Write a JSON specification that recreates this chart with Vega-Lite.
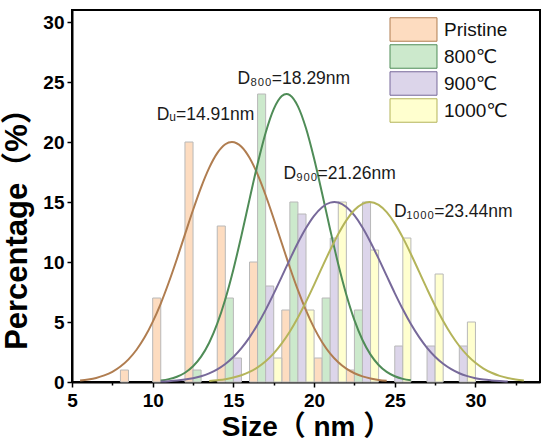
{
  "$schema": "https://vega.github.io/schema/vega-lite/v6.json",
  "width": 468,
  "height": 372,
  "autosize": {"type": "none"},
  "padding": {"left": 72, "top": 10, "right": 10, "bottom": 65},
  "background": "white",
  "config": {
    "font": "Liberation Sans",
    "view": {"stroke": "black", "strokeWidth": 2},
    "axis": {
      "grid": false,
      "domainColor": "black",
      "domainWidth": 2,
      "tickColor": "black",
      "tickWidth": 1.5,
      "labelColor": "black",
      "labelFontWeight": "bold",
      "labelFontSize": 19,
      "titleColor": "black",
      "titleFontWeight": "bold",
      "titleFont": "Liberation Sans, Noto Sans CJK SC"
    }
  },
  "datasets": {
    "bars": [
      {"series": "Pristine", "start": 8, "end": 8.5, "pct": 1},
      {"series": "Pristine", "start": 10, "end": 10.5, "pct": 7},
      {"series": "Pristine", "start": 12, "end": 12.5, "pct": 20},
      {"series": "Pristine", "start": 14, "end": 14.5, "pct": 13},
      {"series": "Pristine", "start": 16, "end": 16.5, "pct": 10},
      {"series": "Pristine", "start": 18, "end": 18.5, "pct": 6},
      {"series": "Pristine", "start": 20, "end": 20.5, "pct": 2},
      {"series": "Pristine", "start": 22, "end": 22.5, "pct": 1},
      {"series": "800℃", "start": 12.5, "end": 13, "pct": 1},
      {"series": "800℃", "start": 14.5, "end": 15, "pct": 7},
      {"series": "800℃", "start": 16.5, "end": 17, "pct": 24},
      {"series": "800℃", "start": 18.5, "end": 19, "pct": 15},
      {"series": "800℃", "start": 20.5, "end": 21, "pct": 7},
      {"series": "800℃", "start": 22.5, "end": 23, "pct": 6},
      {"series": "900℃", "start": 15, "end": 15.5, "pct": 2},
      {"series": "900℃", "start": 17, "end": 17.5, "pct": 8},
      {"series": "900℃", "start": 19, "end": 19.5, "pct": 14},
      {"series": "900℃", "start": 21, "end": 21.5, "pct": 12},
      {"series": "900℃", "start": 23, "end": 23.5, "pct": 15},
      {"series": "900℃", "start": 25, "end": 25.5, "pct": 3},
      {"series": "900℃", "start": 27, "end": 27.5, "pct": 3},
      {"series": "900℃", "start": 29, "end": 29.5, "pct": 3},
      {"series": "1000℃", "start": 17.5, "end": 18, "pct": 2},
      {"series": "1000℃", "start": 19.5, "end": 20, "pct": 6},
      {"series": "1000℃", "start": 21.5, "end": 22, "pct": 15},
      {"series": "1000℃", "start": 23.5, "end": 24, "pct": 11},
      {"series": "1000℃", "start": 25.5, "end": 26, "pct": 12},
      {"series": "1000℃", "start": 27.5, "end": 28, "pct": 9},
      {"series": "1000℃", "start": 29.5, "end": 30, "pct": 5}
    ],
    "fits": [
      {"series": "Pristine", "size": 5.5, "fit": 0.12},
      {"series": "Pristine", "size": 6, "fit": 0.21},
      {"series": "Pristine", "size": 6.5, "fit": 0.34},
      {"series": "Pristine", "size": 7, "fit": 0.55},
      {"series": "Pristine", "size": 7.5, "fit": 0.85},
      {"series": "Pristine", "size": 8, "fit": 1.29},
      {"series": "Pristine", "size": 8.5, "fit": 1.89},
      {"series": "Pristine", "size": 9, "fit": 2.69},
      {"series": "Pristine", "size": 9.5, "fit": 3.72},
      {"series": "Pristine", "size": 10, "fit": 5.01},
      {"series": "Pristine", "size": 10.5, "fit": 6.54},
      {"series": "Pristine", "size": 11, "fit": 8.31},
      {"series": "Pristine", "size": 11.5, "fit": 10.25},
      {"series": "Pristine", "size": 12, "fit": 12.3},
      {"series": "Pristine", "size": 12.5, "fit": 14.33},
      {"series": "Pristine", "size": 13, "fit": 16.22},
      {"series": "Pristine", "size": 13.5, "fit": 17.84},
      {"series": "Pristine", "size": 14, "fit": 19.07},
      {"series": "Pristine", "size": 14.5, "fit": 19.81},
      {"series": "Pristine", "size": 14.91, "fit": 20},
      {"series": "Pristine", "size": 15.5, "fit": 19.6},
      {"series": "Pristine", "size": 16, "fit": 18.68},
      {"series": "Pristine", "size": 16.5, "fit": 17.3},
      {"series": "Pristine", "size": 17, "fit": 15.56},
      {"series": "Pristine", "size": 17.5, "fit": 13.6},
      {"series": "Pristine", "size": 18, "fit": 11.56},
      {"series": "Pristine", "size": 18.5, "fit": 9.54},
      {"series": "Pristine", "size": 19, "fit": 7.65},
      {"series": "Pristine", "size": 19.5, "fit": 5.96},
      {"series": "Pristine", "size": 20, "fit": 4.51},
      {"series": "Pristine", "size": 20.5, "fit": 3.32},
      {"series": "Pristine", "size": 21, "fit": 2.37},
      {"series": "Pristine", "size": 21.5, "fit": 1.65},
      {"series": "Pristine", "size": 22, "fit": 1.11},
      {"series": "Pristine", "size": 22.5, "fit": 0.73},
      {"series": "Pristine", "size": 23, "fit": 0.47},
      {"series": "Pristine", "size": 23.5, "fit": 0.29},
      {"series": "Pristine", "size": 24, "fit": 0.17},
      {"series": "Pristine", "size": 24.5, "fit": 0.1},
      {"series": "800℃", "size": 10.5, "fit": 0.12},
      {"series": "800℃", "size": 11, "fit": 0.24},
      {"series": "800℃", "size": 11.5, "fit": 0.44},
      {"series": "800℃", "size": 12, "fit": 0.77},
      {"series": "800℃", "size": 12.5, "fit": 1.31},
      {"series": "800℃", "size": 13, "fit": 2.11},
      {"series": "800℃", "size": 13.5, "fit": 3.27},
      {"series": "800℃", "size": 14, "fit": 4.86},
      {"series": "800℃", "size": 14.5, "fit": 6.9},
      {"series": "800℃", "size": 15, "fit": 9.38},
      {"series": "800℃", "size": 15.5, "fit": 12.21},
      {"series": "800℃", "size": 16, "fit": 15.22},
      {"series": "800℃", "size": 16.5, "fit": 18.17},
      {"series": "800℃", "size": 17, "fit": 20.77},
      {"series": "800℃", "size": 17.5, "fit": 22.74},
      {"series": "800℃", "size": 18, "fit": 23.83},
      {"series": "800℃", "size": 18.29, "fit": 24},
      {"series": "800℃", "size": 18.5, "fit": 23.91},
      {"series": "800℃", "size": 19, "fit": 22.97},
      {"series": "800℃", "size": 19.5, "fit": 21.14},
      {"series": "800℃", "size": 20, "fit": 18.62},
      {"series": "800℃", "size": 20.5, "fit": 15.71},
      {"series": "800℃", "size": 21, "fit": 12.69},
      {"series": "800℃", "size": 21.5, "fit": 9.81},
      {"series": "800℃", "size": 22, "fit": 7.27},
      {"series": "800℃", "size": 22.5, "fit": 5.15},
      {"series": "800℃", "size": 23, "fit": 3.5},
      {"series": "800℃", "size": 23.5, "fit": 2.28},
      {"series": "800℃", "size": 24, "fit": 1.42},
      {"series": "800℃", "size": 24.5, "fit": 0.84},
      {"series": "800℃", "size": 25, "fit": 0.48},
      {"series": "800℃", "size": 25.5, "fit": 0.26},
      {"series": "800℃", "size": 26, "fit": 0.14},
      {"series": "900℃", "size": 10.5, "fit": 0.04},
      {"series": "900℃", "size": 11, "fit": 0.07},
      {"series": "900℃", "size": 11.5, "fit": 0.12},
      {"series": "900℃", "size": 12, "fit": 0.2},
      {"series": "900℃", "size": 12.5, "fit": 0.31},
      {"series": "900℃", "size": 13, "fit": 0.48},
      {"series": "900℃", "size": 13.5, "fit": 0.72},
      {"series": "900℃", "size": 14, "fit": 1.05},
      {"series": "900℃", "size": 14.5, "fit": 1.5},
      {"series": "900℃", "size": 15, "fit": 2.08},
      {"series": "900℃", "size": 15.5, "fit": 2.82},
      {"series": "900℃", "size": 16, "fit": 3.72},
      {"series": "900℃", "size": 16.5, "fit": 4.79},
      {"series": "900℃", "size": 17, "fit": 6.01},
      {"series": "900℃", "size": 17.5, "fit": 7.36},
      {"series": "900℃", "size": 18, "fit": 8.78},
      {"series": "900℃", "size": 18.5, "fit": 10.22},
      {"series": "900℃", "size": 19, "fit": 11.6},
      {"series": "900℃", "size": 19.5, "fit": 12.83},
      {"series": "900℃", "size": 20, "fit": 13.85},
      {"series": "900℃", "size": 20.5, "fit": 14.57},
      {"series": "900℃", "size": 21, "fit": 14.95},
      {"series": "900℃", "size": 21.26, "fit": 15},
      {"series": "900℃", "size": 21.5, "fit": 14.96},
      {"series": "900℃", "size": 22, "fit": 14.59},
      {"series": "900℃", "size": 22.5, "fit": 13.88},
      {"series": "900℃", "size": 23, "fit": 12.88},
      {"series": "900℃", "size": 23.5, "fit": 11.65},
      {"series": "900℃", "size": 24, "fit": 10.28},
      {"series": "900℃", "size": 24.5, "fit": 8.84},
      {"series": "900℃", "size": 25, "fit": 7.41},
      {"series": "900℃", "size": 25.5, "fit": 6.06},
      {"series": "900℃", "size": 26, "fit": 4.83},
      {"series": "900℃", "size": 26.5, "fit": 3.76},
      {"series": "900℃", "size": 27, "fit": 2.85},
      {"series": "900℃", "size": 27.5, "fit": 2.11},
      {"series": "900℃", "size": 28, "fit": 1.52},
      {"series": "900℃", "size": 28.5, "fit": 1.07},
      {"series": "900℃", "size": 29, "fit": 0.73},
      {"series": "900℃", "size": 29.5, "fit": 0.49},
      {"series": "900℃", "size": 30, "fit": 0.32},
      {"series": "900℃", "size": 30.5, "fit": 0.2},
      {"series": "900℃", "size": 31, "fit": 0.13},
      {"series": "900℃", "size": 31.5, "fit": 0.08},
      {"series": "900℃", "size": 32, "fit": 0.04},
      {"series": "1000℃", "size": 13.5, "fit": 0.09},
      {"series": "1000℃", "size": 14, "fit": 0.15},
      {"series": "1000℃", "size": 14.5, "fit": 0.23},
      {"series": "1000℃", "size": 15, "fit": 0.37},
      {"series": "1000℃", "size": 15.5, "fit": 0.56},
      {"series": "1000℃", "size": 16, "fit": 0.84},
      {"series": "1000℃", "size": 16.5, "fit": 1.22},
      {"series": "1000℃", "size": 17, "fit": 1.73},
      {"series": "1000℃", "size": 17.5, "fit": 2.39},
      {"series": "1000℃", "size": 18, "fit": 3.22},
      {"series": "1000℃", "size": 18.5, "fit": 4.21},
      {"series": "1000℃", "size": 19, "fit": 5.38},
      {"series": "1000℃", "size": 19.5, "fit": 6.69},
      {"series": "1000℃", "size": 20, "fit": 8.1},
      {"series": "1000℃", "size": 20.5, "fit": 9.57},
      {"series": "1000℃", "size": 21, "fit": 11.0},
      {"series": "1000℃", "size": 21.5, "fit": 12.33},
      {"series": "1000℃", "size": 22, "fit": 13.47},
      {"series": "1000℃", "size": 22.5, "fit": 14.33},
      {"series": "1000℃", "size": 23, "fit": 14.85},
      {"series": "1000℃", "size": 23.44, "fit": 15},
      {"series": "1000℃", "size": 24, "fit": 14.76},
      {"series": "1000℃", "size": 24.5, "fit": 14.15},
      {"series": "1000℃", "size": 25, "fit": 13.22},
      {"series": "1000℃", "size": 25.5, "fit": 12.03},
      {"series": "1000℃", "size": 26, "fit": 10.67},
      {"series": "1000℃", "size": 26.5, "fit": 9.22},
      {"series": "1000℃", "size": 27, "fit": 7.76},
      {"series": "1000℃", "size": 27.5, "fit": 6.36},
      {"series": "1000℃", "size": 28, "fit": 5.09},
      {"series": "1000℃", "size": 28.5, "fit": 3.96},
      {"series": "1000℃", "size": 29, "fit": 3.0},
      {"series": "1000℃", "size": 29.5, "fit": 2.22},
      {"series": "1000℃", "size": 30, "fit": 1.6},
      {"series": "1000℃", "size": 30.5, "fit": 1.12},
      {"series": "1000℃", "size": 31, "fit": 0.77},
      {"series": "1000℃", "size": 31.5, "fit": 0.51},
      {"series": "1000℃", "size": 32, "fit": 0.33},
      {"series": "1000℃", "size": 32.5, "fit": 0.21},
      {"series": "1000℃", "size": 33, "fit": 0.13}
    ],
    "notes": [
      {"label": "Dᵤ=14.91nm", "size": 10.25, "pct": 21.8},
      {"label": "D₈₀₀=18.29nm", "size": 15.25, "pct": 24.85},
      {"label": "D₉₀₀=21.26nm", "size": 18.1, "pct": 16.95},
      {"label": "D₁₀₀₀=23.44nm", "size": 24.95, "pct": 13.75}
    ]
  },
  "layer": [
    {
      "data": {"name": "bars"},
      "mark": {"type": "bar", "stroke": "#b8b8b8", "strokeWidth": 1},
      "encoding": {
        "x": {
          "field": "start",
          "type": "quantitative",
          "scale": {"domain": [5, 34], "nice": false, "zero": false},
          "axis": {
            "title": "Size（ nm ）",
            "titleFontSize": 28,
            "titlePadding": 3,
            "values": [5, 7.5, 10, 12.5, 15, 17.5, 20, 22.5, 25, 27.5, 30, 32.5],
            "labelExpr": "datum.value % 5 === 0 ? datum.label : ''",
            "tickSize": {"condition": {"test": "datum.value % 5 === 0", "value": 5}, "value": 3},
            "labelPadding": 4,
            "labelFlush": false
          }
        },
        "x2": {"field": "end"},
        "y": {
          "field": "pct",
          "type": "quantitative",
          "scale": {"domain": [0, 31], "nice": false},
          "axis": {
            "title": "Percentage（%）",
            "titleFontSize": 31,
            "titleX": -39,
            "titleY": 211,
            "titleBaseline": "bottom",
            "titleAlign": "center",
            "values": [0, 2.5, 5, 7.5, 10, 12.5, 15, 17.5, 20, 22.5, 25, 27.5, 30],
            "labelExpr": "datum.value % 5 === 0 ? datum.label : ''",
            "tickSize": {"condition": {"test": "datum.value % 5 === 0", "value": 5}, "value": 3},
            "labelPadding": 3
          }
        },
        "y2": {"datum": 0},
        "fill": {
          "field": "series",
          "type": "nominal",
          "scale": {
            "domain": ["Pristine", "800℃", "900℃", "1000℃"],
            "range": ["#fddcc0", "#cce9cc", "#dcd5ea", "#ffffcf"]
          },
          "legend": {
            "title": null,
            "orient": "none",
            "legendX": 329,
            "legendY": 7,
            "symbolType": "M-2,-1L2,-1L2,1L-2,1Z",
            "symbolSize": 552,
            "symbolStrokeColor": "#b8b8b8",
            "symbolStrokeWidth": 1,
            "symbolOpacity": 1,
            "labelFontSize": 19,
            "labelFont": "Liberation Sans, DejaVu Sans",
            "labelColor": "#111",
            "labelOffset": 18,
            "rowPadding": -4
          }
        }
      }
    },
    {
      "data": {"name": "fits"},
      "mark": {"type": "line", "interpolate": "monotone", "strokeWidth": 2},
      "encoding": {
        "x": {"field": "size", "type": "quantitative"},
        "y": {"field": "fit", "type": "quantitative"},
        "stroke": {
          "field": "series",
          "type": "nominal",
          "scale": {
            "domain": ["Pristine", "800℃", "900℃", "1000℃"],
            "range": ["#b07d50", "#4f8c57", "#77699a", "#b4b45a"]
          },
          "legend": null
        }
      }
    },
    {
      "data": {"name": "notes"},
      "mark": {"type": "text", "align": "left", "baseline": "alphabetic", "fontSize": 17.5, "font": "Liberation Sans, DejaVu Sans", "color": "#1a1a1a"},
      "encoding": {
        "x": {"field": "size", "type": "quantitative"},
        "y": {"field": "pct", "type": "quantitative"},
        "text": {"field": "label"}
      }
    }
  ]
}
